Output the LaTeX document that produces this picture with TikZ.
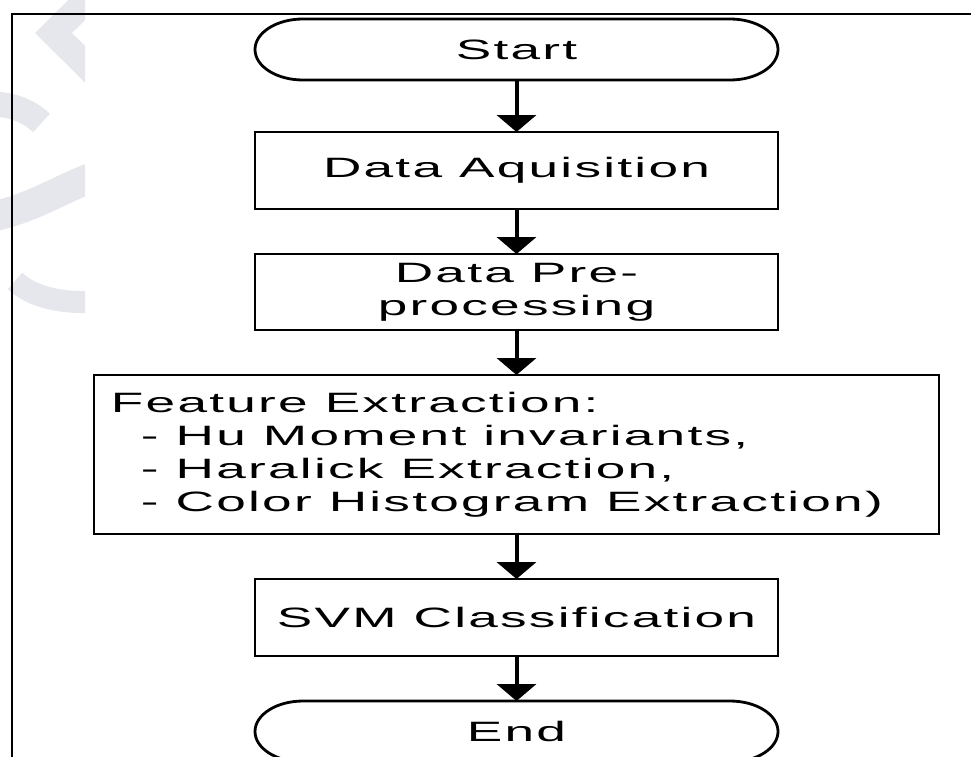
\documentclass[tikz,border=0pt]{standalone}
\usepackage{fontspec}
\setmainfont{Liberation Sans}[FakeStretch=1.9,LetterSpace=8]
\usetikzlibrary{positioning,arrows.meta,calc}

\definecolor{wmgrey}{RGB}{230,231,236}

\begin{document}
\begin{tikzpicture}[x=1bp, y=-1bp,
    flow block/.style={draw, rectangle, line width=2.8bp, minimum width=523bp, minimum height=77bp, align=center, inner sep=0pt, outer sep=0pt},
    flow term/.style={rectangle, minimum width=523bp, minimum height=61bp, inner sep=0pt, outer sep=0pt},
    flow arrow/.style={line width=4bp, -{Triangle[width=39bp,length=17bp]}},
    node distance=45bp,
    font=\fontsize{28bp}{33bp}\selectfont]
    \useasboundingbox (0,0) rectangle (971,757);

    % watermark remains on the left
    \begin{scope}
        \clip (0,0) rectangle (85,340);
        \draw[wmgrey, line width=26bp, miter limit=10] (104,-17) -- (53.5,33) -- (114,93);
        \draw[wmgrey, line width=25bp] (-10,104) .. controls (10,104) and (28,110) .. (41.5,123);
        \draw[wmgrey, line width=30bp] (-5,216) .. controls (30,208) and (50,195) .. (90,178);
        \draw[wmgrey, line width=22bp] (15,281) .. controls (30,295) and (55,303) .. (90,302);
    \end{scope}

    % frame
    \draw[line width=2.3bp] (12,760) -- (12,14) -- (975,14);

    \node[flow term] (start) at (516.5,49.5) {Start};
    \node[flow block, below=52bp of start] (acq) {Data Aquisition};
    \node[flow block, below=of acq, minimum height=76bp] (pre) {Data Pre-\\processing};
    \node[flow block, below=of pre, minimum width=845bp, minimum height=159bp, align=left, text width=811bp] (feat)
        {\spaceskip=0pt Feature Extraction:\\
         \hspace*{30bp}- Hu Moment invariants,\\
         \hspace*{30bp}- Haralick Extraction,\\
         \hspace*{30bp}- Color Histogram Extraction)};
    \node[flow block, below=of feat] (svm) {SVM Classification};
    \node[flow term, below=of svm] (stop) {End};

    % rounded ends of the terminals
    \foreach \t in {start,stop}
        \draw[line width=2.8bp] ([xshift=48bp]\t.north west) -- ([xshift=-48bp]\t.north east)
            arc[start angle=90, end angle=-90, x radius=48bp, y radius=30.5bp]
            -- ([xshift=48bp]\t.south west)
            arc[start angle=270, end angle=90, x radius=48bp, y radius=30.5bp] -- cycle;

    \draw[flow arrow] (start) -- (acq);
    \draw[flow arrow] (acq) -- (pre);
    \draw[flow arrow] (pre) -- (feat);
    \draw[flow arrow] (feat) -- (svm);
    \draw[flow arrow] (svm) -- (stop);
\end{tikzpicture}
\end{document}
